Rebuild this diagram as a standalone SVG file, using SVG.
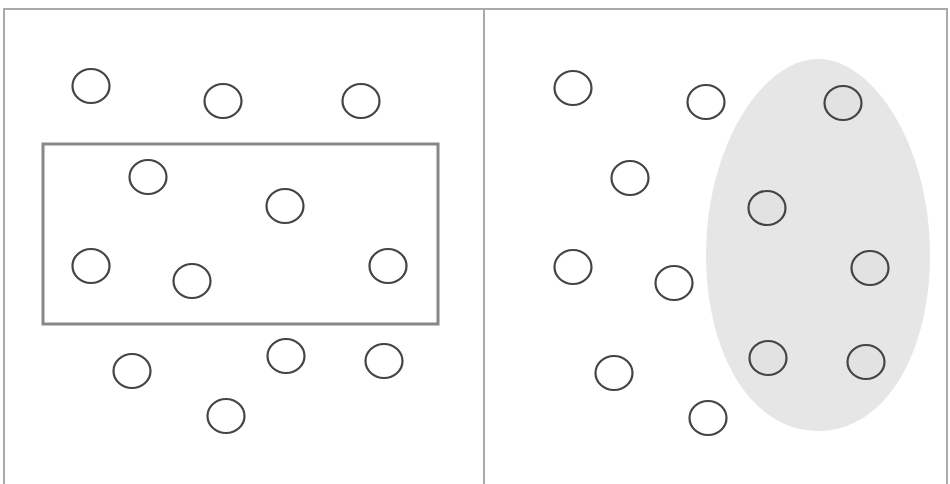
<svg xmlns="http://www.w3.org/2000/svg" width="950" height="484" viewBox="0 0 950 484">
<style>
.c{fill:none;stroke:#444;stroke-width:2.2}
.cs{fill:#e2e2e2;stroke:#444;stroke-width:2.2}
.frame{fill:none;stroke:#aaa;stroke-width:2}
ellipse{rx:18.5px;ry:17px}
</style>
<rect width="950" height="484" fill="#fff"/>
<g id="frame">
<rect class="frame" x="4" y="9" width="943" height="490"/>
<line class="frame" x1="484" y1="9" x2="484" y2="484"/>
</g>
<g id="left-panel">
<rect id="box" x="43" y="144" width="395" height="180" fill="none" stroke="#888" stroke-width="3"/>
<ellipse class="c" cx="91" cy="86" rx="18.5" ry="17"/>
<ellipse class="c" cx="223" cy="101" rx="18.5" ry="17"/>
<ellipse class="c" cx="361" cy="101" rx="18.5" ry="17"/>
<ellipse class="c" cx="148" cy="177" rx="18.5" ry="17"/>
<ellipse class="c" cx="285" cy="206" rx="18.5" ry="17"/>
<ellipse class="c" cx="91" cy="266" rx="18.5" ry="17"/>
<ellipse class="c" cx="192" cy="281" rx="18.5" ry="17"/>
<ellipse class="c" cx="388" cy="266" rx="18.5" ry="17"/>
<ellipse class="c" cx="132" cy="371" rx="18.5" ry="17"/>
<ellipse class="c" cx="286" cy="356" rx="18.5" ry="17"/>
<ellipse class="c" cx="384" cy="361" rx="18.5" ry="17"/>
<ellipse class="c" cx="226" cy="416" rx="18.5" ry="17"/>
</g>
<g id="right-panel">
<path id="cluster" d="M818,59 C874,59 930,147 930,255 C930,352 886,431 818,431 C750,431 706,352 706,255 C706,147 762,59 818,59 Z" fill="#e6e6e6"/>
<ellipse class="c" cx="573" cy="88" rx="18.5" ry="17"/>
<ellipse class="c" cx="706" cy="102" rx="18.5" ry="17"/>
<ellipse class="cs" cx="843" cy="103" rx="18.5" ry="17"/>
<ellipse class="c" cx="630" cy="178" rx="18.5" ry="17"/>
<ellipse class="cs" cx="767" cy="208" rx="18.5" ry="17"/>
<ellipse class="c" cx="573" cy="267" rx="18.5" ry="17"/>
<ellipse class="c" cx="674" cy="283" rx="18.5" ry="17"/>
<ellipse class="cs" cx="870" cy="268" rx="18.5" ry="17"/>
<ellipse class="c" cx="614" cy="373" rx="18.5" ry="17"/>
<ellipse class="cs" cx="768" cy="358" rx="18.5" ry="17"/>
<ellipse class="cs" cx="866" cy="362" rx="18.5" ry="17"/>
<ellipse class="c" cx="708" cy="418" rx="18.5" ry="17"/>
</g>
</svg>
